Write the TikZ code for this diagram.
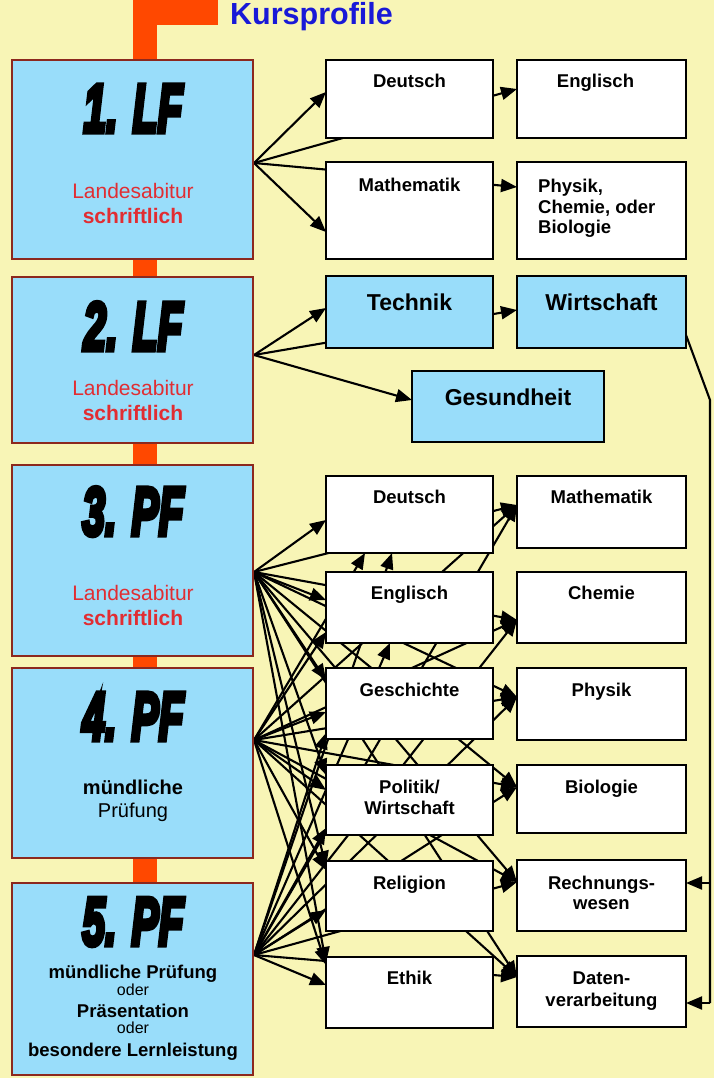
\documentclass[tikz,border=0pt]{standalone}
\usepackage{graphicx}
\usepackage{fontspec}
\setmainfont{Liberation Sans}
\newfontfamily\impf{Liberation Sans}[BoldItalicFeatures={FakeBold=8}]
\usetikzlibrary{arrows.meta,calc}
\definecolor{bgc}{RGB}{248,245,182}
\definecolor{boxblue}{RGB}{153,221,250}
\definecolor{lborder}{RGB}{140,40,30}
\definecolor{redtxt}{RGB}{225,45,50}
\definecolor{titleblue}{RGB}{25,25,215}
\definecolor{orangebar}{RGB}{255,72,0}
\pgfdeclarelayer{bgl}
\pgfdeclarelayer{lines}
\pgfsetlayers{bgl,lines,main}
\newcommand\kursbig[1]{\scalebox{0.6}[1]{\impf\bfseries\itshape\fontsize{68}{68}\selectfont #1}}
\begin{document}
\begin{tikzpicture}[x=1pt,y=-1pt,
  lbox/.style={draw=lborder, fill=boxblue, line width=1.6pt, anchor=north west, minimum width=241pt, inner sep=0pt, outer sep=0pt},
  wbox/.style={draw=black, fill=white, line width=2.5pt, anchor=north west, inner sep=0pt, outer sep=0pt},
  bbox/.style={wbox, fill=boxblue},
  arr/.style={line width=2.1pt, -{Triangle[length=16pt,width=13pt]}},
  con/.style={line width=2.1pt},
  bigt/.style={anchor=base, inner sep=0pt},
  mtext/.style={anchor=base, inner sep=0pt, align=center, font=\fontsize{18.5}{21}\selectfont\bfseries},
  btext/.style={anchor=base, inner sep=0pt, font=\fontsize{23}{27}\selectfont\bfseries},
  redreg/.style={anchor=base, inner sep=0pt, text=redtxt, font=\fontsize{21}{24}\selectfont},
  redbold/.style={anchor=base, inner sep=0pt, text=redtxt, font=\fontsize{21}{24}\selectfont\bfseries},
  blkreg/.style={anchor=base, inner sep=0pt, font=\fontsize{20}{24}\selectfont},
  blkbold/.style={anchor=base, inner sep=0pt, font=\fontsize{20}{24}\selectfont\bfseries},
  smbold/.style={anchor=base, inner sep=0pt, font=\fontsize{18.5}{22}\selectfont\bfseries},
  smreg/.style={anchor=base, inner sep=0pt, font=\fontsize{16}{20}\selectfont},
]
\useasboundingbox (0,0) rectangle (714,1078);
\begin{pgfonlayer}{bgl}
  \fill[bgc] (0,0) rectangle (714,1078);
  \fill[orangebar] (133,0) rectangle (157,883);
  \fill[orangebar] (133,0) rectangle (218,25);
\end{pgfonlayer}

\node[anchor=base west, inner sep=0pt, text=titleblue, font=\fontsize{30.5}{34}\selectfont\bfseries] (title) at (230,24.5) {Kursprofile};

% left boxes
\node[lbox, minimum height=199pt] (L1) at (12,60) {};
\node[lbox, minimum height=166pt] (L2) at (12,277) {};
\node[lbox, minimum height=191pt] (L3) at (12,465) {};
\node[lbox, minimum height=190pt] (L4) at (12,668) {};
\node[lbox, minimum height=192pt] (L5) at (12,883) {};

\node[bigt] (L1a) at (133,132) {\kursbig{1. LF}};
\node[redreg] (L1b) at (133,198.5) {Landesabitur};
\node[redbold] (L1c) at (133,223.5) {schriftlich};
\node[bigt] (L2a) at (133,350) {\kursbig{2. LF}};
\node[redreg] (L2b) at (133,395.5) {Landesabitur};
\node[redbold] (L2c) at (133,420.5) {schriftlich};
\node[bigt] (L3a) at (133,535) {\kursbig{3. PF}};
\node[redreg] (L3b) at (133,600.5) {Landesabitur};
\node[redbold] (L3c) at (133,625.5) {schriftlich};
\node[bigt] (L4a) at (133,740) {\kursbig{4. PF}};
\node[blkbold] (L4b) at (133,794) {mündliche};
\node[blkreg] (L4c) at (133,817) {Prüfung};
\node[bigt] (L5a) at (133,945) {\kursbig{5. PF}};
\node[smbold] (L5b) at (133,978) {mündliche Prüfung};
\node[smreg] (L5c) at (133,995) {oder};
\node[smbold] (L5d) at (133,1017) {Präsentation};
\node[smreg] (L5e) at (133,1033) {oder};
\node[smbold] (L5f) at (133,1056) {besondere Lernleistung};

% top boxes
\node[wbox, minimum width=167pt, minimum height=78pt] (tD) at (326,60) {};
\node[wbox, minimum width=169pt, minimum height=78pt] (tE) at (517,60) {};
\node[wbox, minimum width=167pt, minimum height=97pt] (tM) at (326,162) {};
\node[wbox, minimum width=169pt, minimum height=97pt] (tP) at (517,162) {};
\node[bbox, minimum width=167pt, minimum height=72pt] (tT) at (326,276) {};
\node[bbox, minimum width=169pt, minimum height=72pt] (tW) at (517,276) {};
\node[bbox, minimum width=192pt, minimum height=71pt] (tG) at (412,371) {};

\node[mtext] (tDt) at ($(tD.north)+(0,28)$) {Deutsch};
\node[mtext] (tEt) at ($(tE.north)+(-6,28)$) {Englisch};
\node[mtext] (tMt) at ($(tM.north)+(0,30)$) {Mathematik};
\node[mtext, anchor=base west, align=left, font=\fontsize{18.5}{20}\selectfont\bfseries] (tPt) at (538,233) {Physik,\\Chemie, oder\\Biologie};
\node[btext] (tTt) at ($(tT.north)+(0,34)$) {Technik};
\node[btext] (tWt) at ($(tW.north)+(0,34)$) {Wirtschaft};
\node[btext] (tGt) at ($(tG.north)+(0,34)$) {Gesundheit};

% lower middle boxes
\node[wbox, minimum width=167pt, minimum height=77pt] (mD) at (326,476) {};
\node[wbox, minimum width=167pt, minimum height=71pt] (mE) at (326,572) {};
\node[wbox, minimum width=167pt, minimum height=71pt] (mG) at (326,668) {};
\node[wbox, minimum width=167pt, minimum height=70pt] (mP) at (326,765) {};
\node[wbox, minimum width=167pt, minimum height=70pt] (mR) at (326,861) {};
\node[wbox, minimum width=167pt, minimum height=71pt] (mEt) at (326,957) {};

\node[mtext] (mDt) at ($(mD.north)+(0,27)$) {Deutsch};
\node[mtext] (mEtx) at ($(mE.north)+(0,27)$) {Englisch};
\node[mtext] (mGt) at ($(mG.north)+(0,28)$) {Geschichte};
\node[mtext] (mPt) at ($(mP.north)+(0,49)$) {Politik/\\Wirtschaft};
\node[mtext] (mRt) at ($(mR.north)+(0,28)$) {Religion};
\node[mtext] (mEtt) at ($(mEt.north)+(0,27)$) {Ethik};

% right boxes
\node[wbox, minimum width=169pt, minimum height=72pt] (rMa) at (517,476) {};
\node[wbox, minimum width=169pt, minimum height=71pt] (rCh) at (517,572) {};
\node[wbox, minimum width=169pt, minimum height=72pt] (rPh) at (517,668) {};
\node[wbox, minimum width=169pt, minimum height=68pt] (rBi) at (517,765) {};
\node[wbox, minimum width=169pt, minimum height=71pt] (rRw) at (517,860) {};
\node[wbox, minimum width=169pt, minimum height=71pt] (rDv) at (517,956) {};

\node[mtext] (rMat) at ($(rMa.north)+(0,27)$) {Mathematik};
\node[mtext] (rCht) at ($(rCh.north)+(0,27)$) {Chemie};
\node[mtext] (rPht) at ($(rPh.north)+(0,28)$) {Physik};
\node[mtext] (rBit) at ($(rBi.north)+(0,28)$) {Biologie};
\node[mtext, font=\fontsize{18.5}{20}\selectfont\bfseries] (rRwt) at ($(rRw.north)+(0,49)$) {Rechnungs-\\wesen};
\node[mtext, font=\fontsize{18.5}{22}\selectfont\bfseries] (rDvt) at ($(rDv.north)+(0,50)$) {Daten-\\verarbeitung};

% connectors
\coordinate (s1) at (254,163);
\coordinate (s2) at (254,355);
\coordinate (s3) at (254,572);
\coordinate (s4) at (254,740);
\coordinate (s5) at (254,955);
\coordinate (w1) at (710,400);
\coordinate (w2) at (710,1003);
\coordinate (w3) at (710,883);

\begin{pgfonlayer}{lines}
  \draw[arr] (s1) -- ($(tD.west)+(0,-7)$);
  \draw[arr] (s1) -- ($(tE.west)+(0,-10)$);
  \draw[arr] (s1) -- ($(tM.west)+(0,21.5)$);
  \draw[arr] (s1) -- ($(tP.west)+(0,-23.5)$);
  \draw[arr] (s2) -- ($(tT.west)+(0,-4)$);
  \draw[arr] (s2) -- ($(tW.west)+(0,-2)$);
  \draw[arr] (s2) -- ($(tG.west)+(0,-6.5)$);

  \foreach \b/\o in {mD/5.5, mE/-7.5, mG/-23.5, mP/-25, mR/-29, mEt/-29.5}
    \draw[arr] (s3) -- ($(\b.west)+(0,\o)$);
  \foreach \b/\o in {mE/24.5, mG/8.5, mP/-10, mR/-26, mEt/-27.5}
    \draw[arr] (s4) -- ($(\b.west)+(0,\o)$);
  \draw[arr] (s4) -- ($(mD.south west)+(39,0)$);
  \foreach \b/\o in {mG/29.5, mP/28, mR/14, mEt/-7.5}
    \draw[arr] (s5) -- ($(\b.west)+(0,\o)$);
  \draw[arr] (s5) -- ($(mD.south west)+(66,0)$);
  \draw[arr] (s5) -- ($(mE.south west)+(64,0)$);

  \foreach \s in {s3,s4,s5}
    \foreach \b/\o in {rMa/-7, rCh/12.5, rPh/-7, rBi/-12, rRw/-13.5, rDv/-14.5}
      \draw[arr] (\s) -- ($(\b.west)+(0,\o)$);

  \draw[con, line join=round] ($(tW.south east)+(0,-13)$) -- (w1) -- (w2);
  \draw[arr] (w3) -- (w3 -| rRw.east);
  \draw[arr] (w2) -- (w2 -| rDv.east);
\end{pgfonlayer}
\end{tikzpicture}
\end{document}
